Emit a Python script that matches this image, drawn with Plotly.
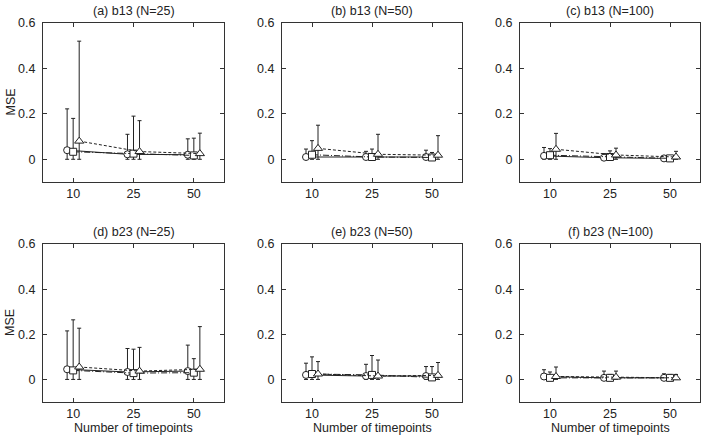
import plotly.graph_objects

# Categories on the x axis and the panel titles
timepoints = ["10", "25", "50"]
panel_titles = ["(a) b13 (N=25)", "(b) b13 (N=50)", "(c) b13 (N=100)",
                "(d) b23 (N=25)", "(e) b23 (N=50)", "(f) b23 (N=100)"]

# Mean MSE per panel, one row per series (circle, square, triangle)
mean_a = [[0.040, 0.022, 0.020], [0.033, 0.025, 0.017], [0.080, 0.034, 0.025]]
mean_b = [[0.010, 0.010, 0.010], [0.020, 0.010, 0.008], [0.048, 0.022, 0.018]]
mean_c = [[0.015, 0.007, 0.004], [0.018, 0.010, 0.004], [0.044, 0.019, 0.010]]
mean_d = [[0.045, 0.033, 0.037], [0.040, 0.028, 0.030], [0.055, 0.037, 0.045]]
mean_e = [[0.020, 0.015, 0.015], [0.024, 0.020, 0.009], [0.024, 0.015, 0.018]]
mean_f = [[0.013, 0.007, 0.007], [0.007, 0.007, 0.007], [0.013, 0.010, 0.007]]

# Top of the error bar for every point, same layout as above
upper_a = [[0.222, 0.110, 0.090], [0.180, 0.190, 0.093], [0.520, 0.170, 0.115]]
upper_b = [[0.045, 0.035, 0.040], [0.082, 0.045, 0.030], [0.150, 0.110, 0.104]]
upper_c = [[0.052, 0.025, 0.010], [0.047, 0.037, 0.010], [0.114, 0.049, 0.035]]
upper_d = [[0.215, 0.137, 0.152], [0.264, 0.134, 0.092], [0.227, 0.142, 0.234]]
upper_e = [[0.072, 0.067, 0.057], [0.100, 0.106, 0.057], [0.079, 0.086, 0.075]]
upper_f = [[0.043, 0.037, 0.025], [0.033, 0.022, 0.022], [0.055, 0.037, 0.022]]

means = [mean_a, mean_b, mean_c, mean_d, mean_e, mean_f]
uppers = [upper_a, upper_b, upper_c, upper_d, upper_e, upper_f]

symbols = ["circle", "square", "triangle-up"]
sizes = [7, 7, 8]
dashes = ["solid", "6px,2px,1px,2px", "3px,2px"]
offsets = [-0.1, 0.0, 0.1]

W, H = 704, 438
col_px = [(43, 224), (282, 462), (520, 700)]
row_px = [(23, 182), (244, 402)]


def px_x(v):
    return v / W


def px_y(v):
    return 1 - v / H


font = dict(family="Liberation Sans, Arial, sans-serif", size=12.5, color="#222222")

figure = plotly.graph_objects.Figure()

for p in range(6):
    r, c = divmod(p, 3)
    ax = "" if p == 0 else str(p + 1)
    for s in range(3):
        x = [i + 1 + offsets[s] for i in range(len(timepoints))]
        y = means[p][s]
        err = [u - m for u, m in zip(uppers[p][s], y)]
        figure.add_trace(plotly.graph_objects.Scatter(
            x=x, y=y, mode="lines+markers",
            xaxis="x" + ax, yaxis="y" + ax,
            line=dict(color="#222222", width=1, dash=dashes[s]),
            marker=dict(symbol=symbols[s], size=sizes[s], color="white",
                        line=dict(color="#222222", width=1)),
            error_y=dict(type="data", array=err, arrayminus=y, symmetric=False,
                         color="#222222", thickness=1, width=2),
            showlegend=False))

    x0, x1 = col_px[c]
    y0, y1 = row_px[r]
    xdom = [px_x(x0), px_x(x1)]
    ydom = [px_y(y1), px_y(y0)]

    common = dict(showline=True, linecolor="#333333", linewidth=1, mirror="ticks",
                  ticks="inside", ticklen=4, tickcolor="#333333", showgrid=False,
                  zeroline=False, tickfont=font, automargin=False)
    figure.layout["xaxis" + ax] = dict(
        common, domain=xdom, anchor="y" + ax, range=[0.5, 3.5],
        tickvals=[1, 2, 3], ticktext=timepoints)
    figure.layout["yaxis" + ax] = dict(
        common, domain=ydom, anchor="x" + ax, range=[-0.1, 0.6],
        tickvals=[0, 0.2, 0.4, 0.6], ticktext=["0", "0.2", "0.4", "0.6"],
        ticklabelstandoff=4)

    # Panel title above the box
    figure.add_annotation(x=(xdom[0] + xdom[1]) / 2, y=px_y(y0 - 12),
                          xref="paper", yref="paper",
                          text=panel_titles[p], showarrow=False, font=font,
                          xanchor="center", yanchor="middle")

    # Axis titles only on the outer panels
    if r == 1:
        figure.add_annotation(x=(xdom[0] + xdom[1]) / 2, y=px_y(428),
                              xref="paper", yref="paper", text="Number of timepoints",
                              showarrow=False, font=font, xanchor="center", yanchor="middle")
    if c == 0:
        figure.add_annotation(x=px_x(10), y=(ydom[0] + ydom[1]) / 2,
                              xref="paper", yref="paper", text="MSE", textangle=-90,
                              showarrow=False, font=font, xanchor="center", yanchor="middle")

figure.update_layout(width=W, height=H, margin=dict(l=0, r=0, t=0, b=0),
                     paper_bgcolor="white", plot_bgcolor="white", font=font)

# Drop the default page margin so the figure sits at the window corner
figure.write_html("out.html", config={"displayModeBar": False},
                  post_script="document.body.style.margin = '0';")
